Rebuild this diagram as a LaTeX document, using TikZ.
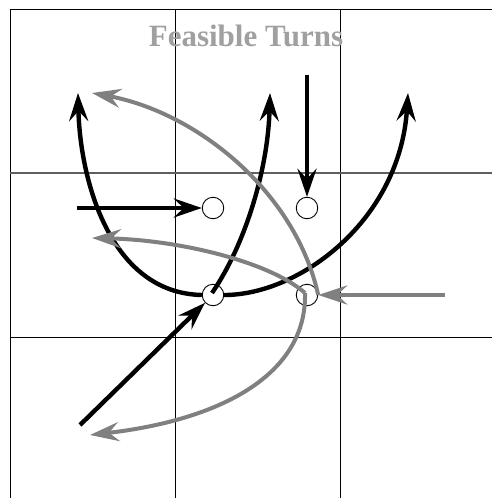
\documentclass[tikz,border=0pt]{standalone}
\usepackage{fontspec}
\setmainfont{Liberation Serif}
\usetikzlibrary{arrows.meta}
\definecolor{turngray}{RGB}{128,128,128}
\definecolor{titlegray}{RGB}{160,160,160}
\definecolor{midgray}{RGB}{95,95,95}
\tikzset{
  gridline/.style={line width=1pt, black},
  midline/.style={line width=2.2pt, midgray},
  spot/.style={circle, draw=black, line width=0.9pt, fill=white, minimum size=21.5pt, inner sep=0pt},
  blackturn/.style={line width=4.4pt, black, -{Stealth[length=28pt, width=19pt, inset=10pt]}},
  grayturn/.style={line width=4pt, turngray, -{Stealth[length=29pt, width=19pt, inset=10pt]}},
}
\begin{document}
\begin{tikzpicture}[x=1pt, y=-1pt]
\useasboundingbox (0,0) rectangle (492,498);
% grid
\draw[gridline] (10,498) -- (10,9) -- (492,9);
\draw[gridline] (175,9) -- (175,498);
\draw[gridline] (340,9) -- (340,498);
\draw[gridline] (10,337) -- (492,337);
\draw[midline] (10,173) -- (492,173);
% title
\node[text=titlegray, font=\bfseries\fontsize{31}{32}\selectfont] (title) at (246,36) {Feasible Turns};
% circles
\node[spot] (A) at (213,208) {};
\node[spot] (B) at (307,208) {};
\node[spot] (C) at (213,295) {};
\node[spot] (D) at (307,295) {};
% free ends
\coordinate (aIn) at (77,208);
\coordinate (bIn) at (307,75);
\coordinate (cIn) at (80,425);
\coordinate (dIn) at (445,295);
\coordinate (upL) at (78,93);
\coordinate (upM) at (270,93);
\coordinate (upR) at (408,93);
\coordinate (gUp) at (92,93);
\coordinate (gMid) at (92,238);
\coordinate (gLow) at (90,435);
\coordinate (dCorner) at (305,293);
% black straight arrows
\draw[blackturn] (aIn) -- (A);
\draw[blackturn] (bIn) -- (B);
\draw[blackturn] (cIn) -- (C);
% black turning curves from C
\draw[blackturn] (C.west) .. controls (110,293) and (80,180) .. (upL);
\draw[blackturn] (C.east) .. controls (300,295) and (400,220) .. (upR);
\draw[blackturn] ([shift={(-1,-2)}]C.center) .. controls (245,245) and (268,170) .. (upM);
% gray arrows
\draw[grayturn] (dIn) -- (D);
\draw[grayturn] (D.east) .. controls (295,190) and (195,112) .. (gUp);
\draw[grayturn] (dCorner) .. controls (270,262) and (180,240) .. (gMid);
\draw[grayturn] (dCorner) .. controls (307,375) and (220,420) .. (gLow);
\end{tikzpicture}
\end{document}
